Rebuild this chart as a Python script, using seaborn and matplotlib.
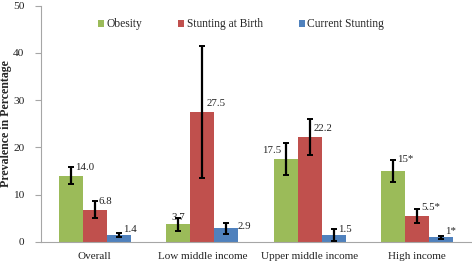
import numpy as np
import pandas as pd
import matplotlib
matplotlib.use("Agg")
import matplotlib.pyplot as plt
import seaborn as sns

# ----------------------------- data ------------------------------------
categories = ["Overall", "Low middle income", "Upper middle income", "High income"]
series = ["Obesity", "Stunting at Birth", "Current Stunting"]

obesity = [14.0, 3.7, 17.5, 15.0]
stunting_birth = [6.8, 27.5, 22.2, 5.5]
current_stunting = [1.4, 2.9, 1.5, 1.0]

obesity_err = [1.75, 1.4, 3.4, 2.4]
stunting_birth_err = [1.8, 14.0, 3.8, 1.45]
current_stunting_err = [0.4, 1.2, 1.3, 0.35]

obesity_labels = ["14.0", "3.7", "17.5", "15*"]
stunting_birth_labels = ["6.8", "27.5", "22.2", "5.5*"]
current_stunting_labels = ["1.4", "2.9", "1.5", "1*"]

COLORS = ["#9BBB59", "#C0504D", "#4F81BD"]
FONT = ["Liberation Serif", "DejaVu Serif"]
GREY = "#A6A6A6"

# ----------------------------- frame -----------------------------------
values = [obesity, stunting_birth, current_stunting]
errs = [obesity_err, stunting_birth_err, current_stunting_err]
labels = [obesity_labels, stunting_birth_labels, current_stunting_labels]

rows = []
for s, v in zip(series, values):
    for c, val in zip(categories, v):
        rows.append({"category": c, "series": s, "value": val})
df = pd.DataFrame(rows)

# ----------------------------- plot ------------------------------------
sns.set_style("white")
plt.rcParams["font.family"] = FONT

fig = plt.figure(figsize=(4.72, 2.63), dpi=100)
ax = fig.add_axes([0.087, 0.08, 0.911, 0.899])

sns.barplot(
    data=df, x="category", y="value", hue="series",
    order=categories, hue_order=series, palette=COLORS,
    width=0.67, saturation=1, errorbar=None, linewidth=0, ax=ax,
)

# label offsets in points (category, series) -> (dx, dy, ha)
default_off = {0: (3, 6, "left"), 1: (3, 6, "left"), 2: (3, 4, "left")}
special = {
    (1, 0): (0, 5, "center"),
    (2, 0): (-3, 6, "right"),
    (1, 2): (8, 1, "left"),
    (3, 0): (3, 8, "left"),
}

bar_containers = list(ax.containers)
for i, cont in enumerate(bar_containers):
    for j, bar in enumerate(cont.patches):
        xc = bar.get_x() + bar.get_width() / 2
        h = bar.get_height()
        ax.errorbar(xc, h, yerr=errs[i][j], fmt="none", ecolor="black",
                    elinewidth=1.6, capsize=2.5, capthick=1.4, zorder=5)
        dx, dy, ha = special.get((j, i), default_off[i])
        ax.annotate(labels[i][j], (xc, h), xytext=(dx, dy),
                    textcoords="offset points", ha=ha, va="center",
                    fontsize=7.8, color="#222222")

ax.set_ylim(0, 50)
ax.set_yticks(np.arange(0, 51, 10))
ax.set_xlim(-0.5, len(categories) - 0.5)
ax.set_xticks(np.arange(len(categories)))
ax.set_xticks(np.arange(-0.5, len(categories), 1), minor=True)
ax.tick_params(axis="x", which="major", length=0, pad=7, labelsize=8.0,
               labelcolor="#222222")
ax.tick_params(axis="x", which="minor", length=4, color=GREY, width=0.8)
ax.tick_params(axis="y", length=4, color=GREY, width=0.8, labelsize=8.2,
               left=True, pad=8, labelcolor="#222222")
ax.set_xlabel("")
ax.set_ylabel("Prevalence in Percentage", fontsize=8.6, fontweight="bold")
ax.yaxis.set_label_coords(-0.068, 0.5)

for sp in ["top", "right"]:
    ax.spines[sp].set_visible(False)
for sp in ["left", "bottom"]:
    ax.spines[sp].set_color(GREY)
    ax.spines[sp].set_linewidth(0.8)

ax.legend(loc="center", bbox_to_anchor=(0.465, 0.92), ncol=3, frameon=False,
          fontsize=8.3, handlelength=0.55, handleheight=0.55, handletextpad=0.2,
          columnspacing=3.1, title=None)

fig.savefig("out.png", dpi=100)
